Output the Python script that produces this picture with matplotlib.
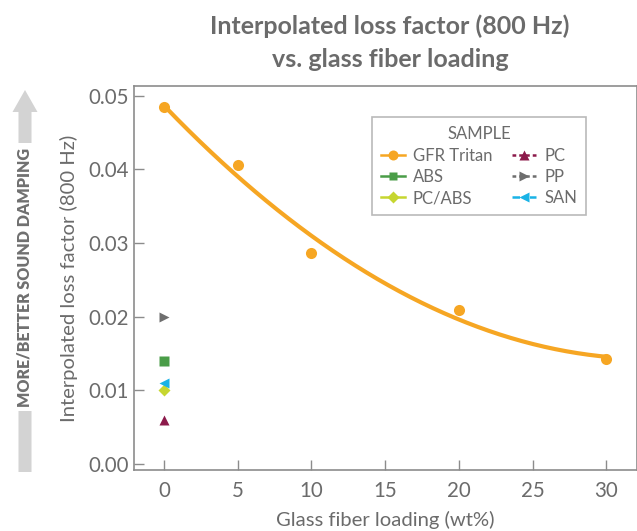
import numpy as np
import matplotlib
matplotlib.use('Agg')
import matplotlib.pyplot as plt
from matplotlib.lines import Line2D
from matplotlib.patches import FancyArrow

plt.rcParams['font.family'] = ['Lato', 'DejaVu Sans']

# data
gf_loading = [0, 5, 10, 20, 30]
gfr_tritan = [0.0484, 0.0406, 0.0287, 0.0209, 0.0142]

others = ['ABS', 'PC/ABS', 'PC', 'PP', 'SAN']
others_loss = [0.0140, 0.0100, 0.0060, 0.0200, 0.0110]

TEXT = '#6b6b6b'
SPINE = '#8c8c8c'
styles = {
    'GFR Tritan': dict(color='#f6a623', marker='o', ls='-'),
    'ABS':        dict(color='#4a9d48', marker='s', ls='-'),
    'PC/ABS':     dict(color='#c6d630', marker='D', ls='-'),
    'PC':         dict(color='#8c1a4b', marker='^', ls=(0, (1.5, 1.2))),
    'PP':         dict(color='#6e6e6e', marker='>', ls=(0, (1.5, 1.2))),
    'SAN':        dict(color='#19b3e6', marker='<', ls=(0, (3, 1.5, 1, 1.5))),
}
msize = {'o': 8, 's': 7, 'D': 6.5, '^': 7.5, '>': 7.5, '<': 7.5}

fig = plt.figure(figsize=(6.37, 5.31), dpi=100)
ax = fig.add_axes([0.2104, 0.1149, 0.79, 0.7231])

# quadratic trend through the Tritan points
coef = np.polyfit(gf_loading, gfr_tritan, 2)
xf = np.linspace(0, 30, 200)
ax.plot(xf, np.polyval(coef, xf), color=styles['GFR Tritan']['color'], lw=3, zorder=2)
ax.plot(gf_loading, gfr_tritan, 'o', color=styles['GFR Tritan']['color'],
        ms=msize['o'], mec='none', zorder=3)

for name, val in zip(others, others_loss):
    st = styles[name]
    ax.plot([0], [val], st['marker'], color=st['color'], ms=msize[st['marker']],
            mec='none', zorder=3)

ax.set_xlim(-2.04, 32.1)
ax.set_ylim(-0.0008, 0.0513)
ax.set_xticks(range(0, 31, 5))
ax.set_yticks([0, 0.01, 0.02, 0.03, 0.04, 0.05])
ax.set_yticklabels(['0.00', '0.01', '0.02', '0.03', '0.04', '0.05'])
ax.tick_params(direction='in', length=7, width=1, color=SPINE, labelcolor=TEXT,
               labelsize=14.8)
ax.tick_params(axis='y', pad=4)
ax.tick_params(axis='x', pad=8)
for s in ax.spines.values():
    s.set_color(SPINE)
    s.set_linewidth(1.2)

ax.set_xlabel('Glass fiber loading (wt%)', fontsize=14.6, color=TEXT, labelpad=7)
ax.set_ylabel('Interpolated loss factor (800 Hz)', fontsize=14.6, color=TEXT, labelpad=7)

fig.text(0.612, 0.972, 'Interpolated loss factor (800 Hz)\nvs. glass fiber loading',
         ha='center', va='top', fontsize=18, fontweight='bold', color=TEXT,
         linespacing=1.5)

# legend
order = ['GFR Tritan', 'ABS', 'PC/ABS', 'PC', 'PP', 'SAN']
handles = [Line2D([], [], color=styles[n]['color'], marker=styles[n]['marker'],
                  ls=styles[n]['ls'], lw=1.8, ms=msize[styles[n]['marker']] * 0.9,
                  mec='none') for n in order]
leg = ax.legend(handles, order, ncol=2, title='SAMPLE', loc='upper left',
                bbox_to_anchor=(0.473, 0.919), frameon=True, fancybox=False,
                edgecolor='#a8a8a8', fontsize=12, title_fontsize=12,
                handlelength=1.4, columnspacing=1.2, labelspacing=0.32,
                borderpad=0.55, handletextpad=0.5, borderaxespad=0)
leg.get_frame().set_linewidth(1.2)
leg.get_title().set_color(TEXT)
for t in leg.get_texts():
    t.set_color(TEXT)

# side arrow "more / better sound damping"
side = fig.add_axes([0, 0, 1, 1], zorder=-1)
side.set_xlim(0, 637)
side.set_ylim(531, 0)
side.axis('off')
side.add_patch(FancyArrow(25, 472, 0, -382, width=13, head_width=25,
                          head_length=22, length_includes_head=True,
                          color='#d3d3d3', lw=0))
side.text(25, 277, 'MORE/BETTER SOUND DAMPING', rotation=90, ha='center',
          va='center', fontsize=11.5, fontweight='heavy', color='#707070',
          bbox=dict(facecolor='white', edgecolor='none', pad=3))

fig.savefig('out.png', dpi=100)
